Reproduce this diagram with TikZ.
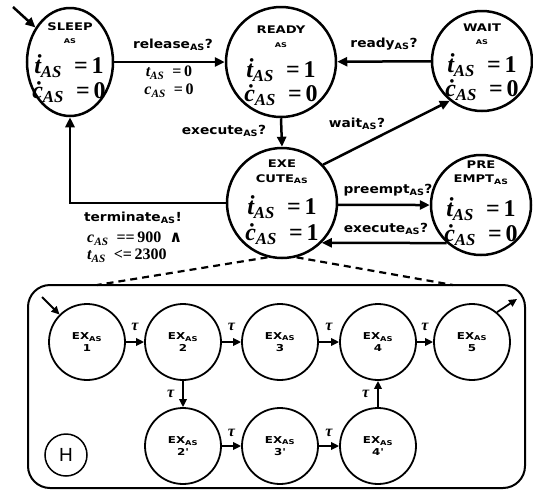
\documentclass[tikz,border=0pt]{standalone}
\usepackage{fontspec}
\setmainfont{Liberation Serif}
\newfontfamily\lblfont[FakeStretch=1.1]{DejaVu Sans}
\newfontfamily\namefont[FakeStretch=1.25]{DejaVu Sans}
\newfontfamily\symfont{DejaVu Serif}
\newfontfamily\hfont{Liberation Sans}
\usetikzlibrary{arrows.meta,shapes.geometric}

% clock dynamics and clock expressions, set in bold Times-like text
\newcommand\clk[1]{{\bfseries\itshape #1}\textsubscript{\bfseries\itshape AS}}
\newcommand\dclk[1]{{\bfseries\itshape\accent"02D9 #1}\textsubscript{\bfseries\itshape AS}}
\newcommand\dynt[1]{\dclk{t}\enspace{\bfseries=\,#1}}
\newcommand\dync[1]{\dclk{c}\enspace{\bfseries=\,#1}}

\tikzset{
  statecirc/.style={draw, circle, line width=2.5pt, inner sep=0pt},
  sleepoval/.style={draw, ellipse, line width=2.5pt, inner sep=0pt, minimum width=86pt, minimum height=108pt},
  excirc/.style={draw, circle, line width=1.8pt, inner sep=0pt, minimum size=76pt, align=center,
    font=\namefont\bfseries\fontsize{9.5}{12.5}\selectfont},
  tr/.style={line width=2.5pt, -{Triangle[length=10pt,width=9pt]}},
  trs/.style={line width=1.8pt, -{Triangle[length=8pt,width=7.5pt]}},
  lbl/.style={font=\lblfont\bfseries\fontsize{12.5}{14}\selectfont, inner sep=0pt},
  stname/.style={font=\namefont\bfseries\fontsize{10.5}{11}\selectfont, inner sep=0pt},
  subtag/.style={font=\namefont\bfseries\fontsize{6.5}{7}\selectfont, inner sep=0pt},
  dyn/.style={font=\fontsize{24}{24}\selectfont, inner sep=0pt},
  guard/.style={font=\fontsize{16}{16}\selectfont, inner sep=0pt},
  taulbl/.style={font=\bfseries\itshape\fontsize{16}{16}\selectfont, inner sep=0pt},
  zoomline/.style={line width=2.2pt, dash pattern=on 7pt off 5pt},
  hierbox/.style={draw, line width=2pt, rounded corners=22pt, inner sep=0pt},
}

\begin{document}
\begin{tikzpicture}[x=1pt,y=-1pt]
\useasboundingbox (0,0) rectangle (533,491);

% ---------- top-level automaton ----------
\node[sleepoval] (sleep) at (70,62) {};
\node[stname] (sleepN) at (70,27) {SLEEP};
\node[subtag] (sleepS) at (70,41) {AS};
\node[dyn] (sleepT) at (69,66) {\dynt{1}};
\node[dyn] (sleepC) at (69,92) {\dync{0}};

\node[statecirc, minimum size=110pt] (ready) at (281,62) {};
\node[stname] (readyN) at (281,30) {READY};
\node[subtag] (readyS) at (281,45) {AS};
\node[dyn] (readyT) at (281,70) {\dynt{1}};
\node[dyn] (readyC) at (281,95) {\dync{0}};

\node[statecirc, minimum size=100pt] (wait) at (482,61) {};
\node[stname] (waitN) at (482,28) {WAIT};
\node[subtag] (waitS) at (482,42) {AS};
\node[dyn] (waitT) at (482,65) {\dynt{1}};
\node[dyn] (waitC) at (482,90) {\dync{0}};

\node[statecirc, minimum size=110pt] (exe) at (282,203) {};
\node[stname] (exeN1) at (282,164) {EXE};
\node[stname] (exeN2) at (282,179) {CUTE\textsubscript{AS}};
\node[dyn] (exeT) at (282,207) {\dynt{1}};
\node[dyn] (exeC) at (282,234) {\dync{1}};

\node[statecirc, minimum size=100pt] (pre) at (481,205) {};
\node[stname] (preN1) at (481,165) {PRE};
\node[stname] (preN2) at (481,180) {EMPT\textsubscript{AS}};
\node[dyn] (preT) at (481,209) {\dynt{1}};
\node[dyn] (preC) at (481,235) {\dync{0}};

% initial marker
\coordinate (init) at (13,7);
\draw[tr] (init) -- (sleep.135);

% transitions
\draw[tr] (sleep) -- (ready);
\node[lbl] (relL) at (173,45) {release\textsubscript{AS}?};
\node[guard] (relT) at (169,73) {\clk{t}\enspace{\bfseries=\,0}};
\node[guard] (relC) at (169,91) {\clk{c}\enspace{\bfseries=\,0}};

\draw[tr] (wait) -- (ready);
\node[lbl] (rdyL) at (384,44) {ready\textsubscript{AS}?};

\draw[tr] (ready.south) -- (exe.north);
\node[lbl] (exL) at (224,131) {execute\textsubscript{AS}?};

\draw[tr] (exe.43) -- (wait.231);
\node[lbl] (waitL) at (357,124) {wait\textsubscript{AS}?};

\draw[tr] (exe.-2) -- (pre.180);
\node[lbl] (preL) at (388,190) {preempt\textsubscript{AS}?};

\draw[tr] (pre.228) -- (exe.-45);
\node[lbl] (exL2) at (386,229) {execute\textsubscript{AS}?};

\draw[tr] (exe.west) -| (sleep.south);
\node[lbl] (termL) at (133,218) {terminate\textsubscript{AS}!};
\node[guard, anchor=west] (termG1) at (87,239) {\clk{c}\enspace{\bfseries==\,900}\enspace{\symfont\bfseries ∧}};
\node[guard, anchor=west] (termG2) at (87,256) {\clk{t}\enspace{\bfseries<=\,2300}};

% ---------- refinement of EXECUTE ----------
\node[hierbox, minimum width=497pt, minimum height=203pt] (hbox) at (276.5,386.5) {};
\coordinate (zl) at (97,285);
\coordinate (zr) at (453,285);
\draw[zoomline] (exe.255) -- (zl);
\draw[zoomline] (exe.285) -- (zr);

\node[excirc] (ex1) at (87,342) {EX\textsubscript{AS}\\1};
\node[excirc] (ex2) at (183,342) {EX\textsubscript{AS}\\2};
\node[excirc] (ex3) at (280,342) {EX\textsubscript{AS}\\3};
\node[excirc] (ex4) at (378,342) {EX\textsubscript{AS}\\4};
\node[excirc] (ex5) at (472,342) {EX\textsubscript{AS}\\5};
\node[excirc] (ex2p) at (183,446) {EX\textsubscript{AS}\\2'};
\node[excirc] (ex3p) at (280,446) {EX\textsubscript{AS}\\3'};
\node[excirc] (ex4p) at (378,446) {EX\textsubscript{AS}\\4'};

\coordinate (binit) at (42,297);
\coordinate (bexit) at (517,299);
\draw[trs] (binit) -- (ex1.135);
\draw[trs] (ex5.50) -- (bexit);

\draw[trs] (ex1) -- node[taulbl, above=10pt] {τ} (ex2);
\draw[trs] (ex2) -- node[taulbl, above=10pt] {τ} (ex3);
\draw[trs] (ex3) -- node[taulbl, above=10pt] {τ} (ex4);
\draw[trs] (ex4) -- node[taulbl, above=10pt] {τ} (ex5);
\draw[trs] (ex2) -- node[taulbl, left=8pt] {τ} (ex2p);
\draw[trs] (ex2p) -- node[taulbl, above=8pt] {τ} (ex3p);
\draw[trs] (ex3p) -- node[taulbl, above=8pt] {τ} (ex4p);
\draw[trs] (ex4p) -- node[taulbl, left=8pt] {τ} (ex4);

\node[draw, circle, line width=1.5pt, minimum size=42pt, inner sep=0pt,
  font=\hfont\fontsize{19}{19}\selectfont] (hmark) at (66,455) {H};
\end{tikzpicture}
\end{document}
